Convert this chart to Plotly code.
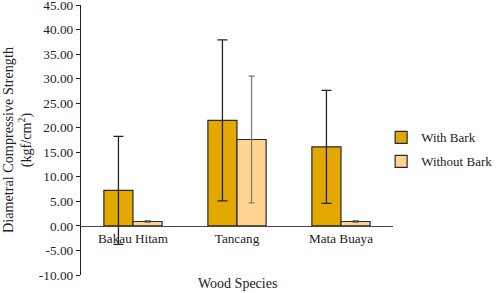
import plotly.graph_objects as go

species = ["Bakau Hitam", "Tancang", "Mata Buaya"]
with_bark = [7.25, 21.5, 16.1]
with_bark_err = [11.0, 16.4, 11.5]
without_bark = [0.9, 17.6, 0.9]
without_bark_err = [0.2, 12.9, 0.2]
y_ticks = [-10, -5, 0, 5, 10, 15, 20, 25, 30, 35, 40, 45]
y_tick_text = ["-10.00", "-5.00", "0.00", "5.00", "10.00", "15.00", "20.00",
               "25.00", "30.00", "35.00", "40.00", "45.00"]

font_family = "Liberation Serif"

fig = go.Figure()
fig.add_trace(go.Bar(
    x=species, y=with_bark, name="With Bark", legendgroup="a",
    marker=dict(color="#E2A800", line=dict(color="#2a2a2a", width=1.2)),
    error_y=dict(type="data", array=with_bark_err, color="#222222",
                 thickness=1.3, width=5),
))
fig.add_trace(go.Bar(
    x=species, y=without_bark, name="Without Bark", legendgroup="b",
    marker=dict(color="#FDD590", line=dict(color="#2a2a2a", width=1.2)),
    error_y=dict(type="data", array=without_bark_err, color="#7a7a7a",
                 thickness=1.2, width=3),
))

fig.update_layout(
    width=498, height=293,
    margin=dict(l=81, r=105, t=5, b=18, autoexpand=False),
    paper_bgcolor="white", plot_bgcolor="white",
    font=dict(family=font_family, size=13, color="#222222"),
    barmode="group", bargap=0.44, bargroupgap=0,
    showlegend=True,
    legend=dict(x=0.962, y=0.565, xanchor="left", yanchor="top",
                tracegroupgap=4, itemwidth=30, font=dict(size=13),
                bgcolor="rgba(0,0,0,0)"),
    xaxis=dict(
        anchor="free", position=10 / 55, automargin=False,
        showline=True, linecolor="#444444", linewidth=1.3,
        ticks="", showgrid=False, zeroline=False,
        tickfont=dict(size=13.2), ticklabeloverflow="allow",
    ),
    yaxis=dict(
        range=[-10, 45], tickvals=y_ticks, ticktext=y_tick_text,
        automargin=False, ticklabeloverflow="allow",
        showline=True, linecolor="#222222", linewidth=1.3,
        ticks="outside", ticklen=4, tickcolor="#222222",
        showgrid=False, zeroline=False,
        tickfont=dict(size=13.3),
        title=dict(text="Diametral Compressive Strength<br>(kgf/cm<sup>2</sup>)",
                   font=dict(size=14.2), standoff=6),
    ),
    annotations=[dict(
        text="Wood Species", x=0.5, y=-0.03, xref="paper", yref="paper",
        xanchor="center", yanchor="middle", showarrow=False,
        font=dict(size=14),
    )],
)

fig.write_html("out.html", config={"displayModeBar": False},
               post_script="document.body.style.margin='0px';")
